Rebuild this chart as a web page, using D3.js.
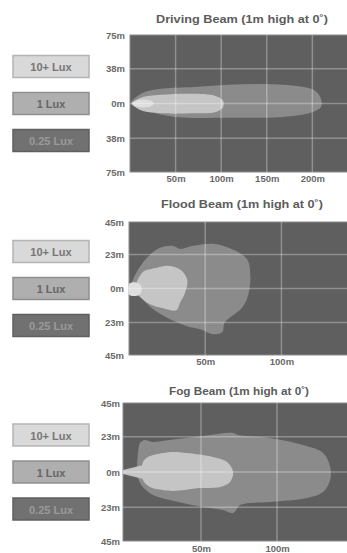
<!DOCTYPE html>
<html>
<head>
<meta charset="utf-8">
<script src="https://cdn.jsdelivr.net/npm/d3@7"></script>
<style>
body { margin: 0; background: #fff; }
svg { display: block; font-family: "Liberation Sans", Arial, sans-serif; }
</style>
</head>
<body>
<div id="chart"></div>
<script>
// legend levels
const luxLabels = ['10+ Lux', '1 Lux', '0.25 Lux'];
const titles = ['Driving Beam (1m high at 0˚)', 'Flood Beam (1m high at 0˚)', 'Fog Beam (1m high at 0˚)'];

// tick values (metres)
const drivingYTicks = [75, 38, 0, -38, -75];
const drivingXTicks = [50, 100, 150, 200];
const floodYTicks = [45, 23, 0, -23, -45];
const floodXTicks = [50, 100];
const fogYTicks = [45, 23, 0, -23, -45];
const fogXTicks = [50, 100];

// beam contours: [distance m, lateral m]
const driving1Lux = [[1, 0], [12, 10.7], [34, 16.1], [71, 18.2], [108, 20.4], [144, 21.4], [181, 19.3],
  [203, 13.9], [210, 3.2], [209, -4.3], [196, -10.7], [163, -15], [108, -15.5], [53, -15], [27.5, -10.7], [9, -5.4]];
const driving10Lux = [[3, 0], [12, 6.4], [34, 9.6], [71, 10.7], [93, 8.6], [102, 3.2], [102, -4.3],
  [93, -9.6], [71, -10.7], [34, -10.7], [12, -7.5]];
const drivingHot = [[2, 0], [7, 3.5], [15, 4.3], [23, 3], [26, 0], [23, -3], [15, -4.3], [7, -3.5]];

const flood1Lux = [[0.7, 0], [2.6, 6], [7.2, 14.8], [13.8, 22.8], [20.4, 27.5], [28.3, 28.9], [33.6, 26.8],
  [42.1, 28.9], [55.3, 30.2], [68.4, 26.2], [77.6, 19.5], [79.6, 8.1], [78.3, -4], [74.3, -12.8],
  [66.4, -19.5], [62.5, -23.5], [61.2, -29.5], [55.3, -30.9], [46.7, -27.5], [38.2, -25.5],
  [27, -20.8], [15.8, -14.1], [7.2, -6], [2, -2]];
const flood10Lux = [[4.6, 2.7], [7.2, 8.7], [10.5, 12.1], [18.4, 14.1], [25, 15.4], [33.6, 12.8],
  [38.2, 6], [36.8, -2.7], [33.6, -9.4], [30.9, -14.8], [22.4, -13.4], [13.8, -10.7], [7.2, -5.4], [5.3, -1.3]];
const floodHot = [[0, 3], [3, 4.2], [7, 3], [8.5, -0.5], [7, -4], [3, -5], [0, -4]];

const fog1Lux = [[9.9, 19], [13.2, 20.9], [17.8, 19.6], [29.6, 20.9], [51.3, 23.5], [71.1, 25.5],
  [74.3, 24.2], [95.4, 22.2], [117.1, 17.6], [130.3, 12.4], [134.9, 3.3], [134.9, -5.2], [130.3, -13.1],
  [119.7, -17], [95.4, -19.6], [75.7, -21.6], [71.1, -26.8], [64.5, -24.8], [51.3, -22.9], [29.6, -18.3],
  [18.4, -15], [11.8, -9.8], [8.6, -3.9], [7.9, 3.3], [8.6, 12.4]];
const fog10Lux = [[11.8, 6.5], [15.1, 9.8], [25, 12.4], [31.6, 13.1], [40.8, 12.4], [57.9, 9.8],
  [67.1, 6.5], [71.1, 0], [69.1, -6.5], [62.5, -9.8], [49.3, -10.5], [31.6, -12.4], [25, -11.8],
  [16.4, -9.8], [11.8, -5.2], [11.2, 0]];
const fogStrip = [[-1.3, 1.3], [12, 4.6], [12, -4.6], [-1.3, -1.3]];

const colors = {bg: '#5f5f5f', lux1: '#8b8b8b', lux10: '#c5c5c5', hot: '#dedede'};
const legendFill = ['#d9d9d9', '#afafaf', '#717171'];
const legendStroke = ['#b4b4b4', '#8e8e8e', '#5f5f5f'];
const legendText = ['#767676', '#666', '#9a9a9a'];

const width = 347, height = 553;

const panels = [
  {title: titles[0], yTicks: drivingYTicks, xTicks: drivingXTicks, smooth: [driving1Lux, driving10Lux, drivingHot], sharp: [],
    left: 130, top: 35, bottom: 172, xMin: 0, xMax: 238, titleX: 242, titleY: 23, titleW: 172, tickY: 185, labelX: 125},
  {title: titles[1], yTicks: floodYTicks, xTicks: floodXTicks, smooth: [flood1Lux, flood10Lux, floodHot], sharp: [],
    left: 129, top: 222, bottom: 355, xMin: 0, xMax: 143, titleX: 242, titleY: 208, titleW: 162, tickY: 368, labelX: 124},
  {title: titles[2], yTicks: fogYTicks, xTicks: fogXTicks, smooth: [fog1Lux, fog10Lux], sharp: [fogStrip],
    left: 123, top: 403, bottom: 541, xMin: -1.3, xMax: 146, titleX: 239, titleY: 395, titleW: 140, tickY: 555, labelX: 120}
];

let svg = d3.select('#chart')
  .append('svg')
  .attr('width', width)
  .attr('height', height);

panels.forEach(function(p, i) {
  let x = d3.scaleLinear().domain([p.xMin, p.xMax]).range([p.left, width]);
  let yMax = d3.max(p.yTicks);
  let y = d3.scaleLinear().domain([-yMax, yMax]).range([p.bottom, p.top]);

  let g = svg.append('g');

  g.append('rect')
    .attr('x', p.left)
    .attr('y', p.top)
    .attr('width', width - p.left + 2)
    .attr('height', p.bottom - p.top)
    .attr('fill', colors.bg)
    .attr('stroke', '#8c8c8c')
    .attr('stroke-width', 1);

  let smoothLine = d3.line().x(d => x(d[0])).y(d => y(d[1])).curve(d3.curveCatmullRomClosed.alpha(0.5));
  let sharpLine = d3.line().x(d => x(d[0])).y(d => y(d[1]));
  let fills = [colors.lux1, colors.lux10, colors.hot];

  g.selectAll('path.beam')
    .data(p.smooth)
    .enter().append('path')
    .attr('class', 'beam')
    .attr('d', smoothLine)
    .attr('fill', (d, k) => fills[k]);

  g.selectAll('path.strip')
    .data(p.sharp)
    .enter().append('path')
    .attr('class', 'strip')
    .attr('d', d => sharpLine(d) + 'Z')
    .attr('fill', colors.lux10);

  // grid
  g.selectAll('line.hgrid')
    .data(p.yTicks.filter(v => Math.abs(v) !== yMax))
    .enter().append('line')
    .attr('x1', p.left).attr('x2', width)
    .attr('y1', d => y(d)).attr('y2', d => y(d))
    .attr('stroke', '#fff').attr('stroke-opacity', 0.3).attr('stroke-width', 1.5);

  g.selectAll('line.vgrid')
    .data(p.xTicks)
    .enter().append('line')
    .attr('x1', d => x(d)).attr('x2', d => x(d))
    .attr('y1', p.top).attr('y2', p.bottom)
    .attr('stroke', '#fff').attr('stroke-opacity', 0.3).attr('stroke-width', 1.5);

  // axes
  let yAxis = g.append('g')
    .attr('transform', `translate(${p.labelX},0)`)
    .call(d3.axisLeft(y).tickValues(p.yTicks).tickFormat(d => Math.abs(d) + 'm').tickSize(0).tickPadding(0));
  yAxis.select('.domain').remove();
  yAxis.selectAll('text')
    .style('font-size', '9.5px')
    .style('font-weight', 'bold')
    .style('font-family', '"Liberation Sans", Arial, sans-serif')
    .attr('fill', '#6a6a6a');

  let xAxis = g.append('g')
    .attr('transform', `translate(0,${p.tickY - 10})`)
    .call(d3.axisBottom(x).tickValues(p.xTicks).tickFormat(d => d + 'm').tickSize(0).tickPadding(0));
  xAxis.select('.domain').remove();
  xAxis.selectAll('text')
    .style('font-size', '9.5px')
    .style('font-weight', 'bold')
    .style('font-family', '"Liberation Sans", Arial, sans-serif')
    .attr('fill', '#6a6a6a');

  g.append('text')
    .attr('x', p.titleX)
    .attr('y', p.titleY)
    .attr('text-anchor', 'middle')
    .attr('textLength', p.titleW)
    .attr('lengthAdjust', 'spacingAndGlyphs')
    .style('font-size', '10.5px')
    .style('font-weight', 'bold')
    .attr('fill', '#5c5c5c')
    .text(p.title);

  // legend
  let mid = y(0);
  let leg = g.selectAll('g.legend')
    .data(luxLabels)
    .enter().append('g')
    .attr('transform', (d, k) => `translate(13,${mid + (k - 1) * 37 - 11})`);
  leg.append('rect')
    .attr('width', 76).attr('height', 22)
    .attr('fill', (d, k) => legendFill[k])
    .attr('stroke', (d, k) => legendStroke[k])
    .attr('stroke-width', 1.5);
  leg.append('text')
    .attr('x', 38).attr('y', 15.5)
    .attr('text-anchor', 'middle')
    .style('font-size', '11px')
    .style('font-weight', 'bold')
    .attr('fill', (d, k) => legendText[k])
    .text(d => d);
});
</script>
</body>
</html>
